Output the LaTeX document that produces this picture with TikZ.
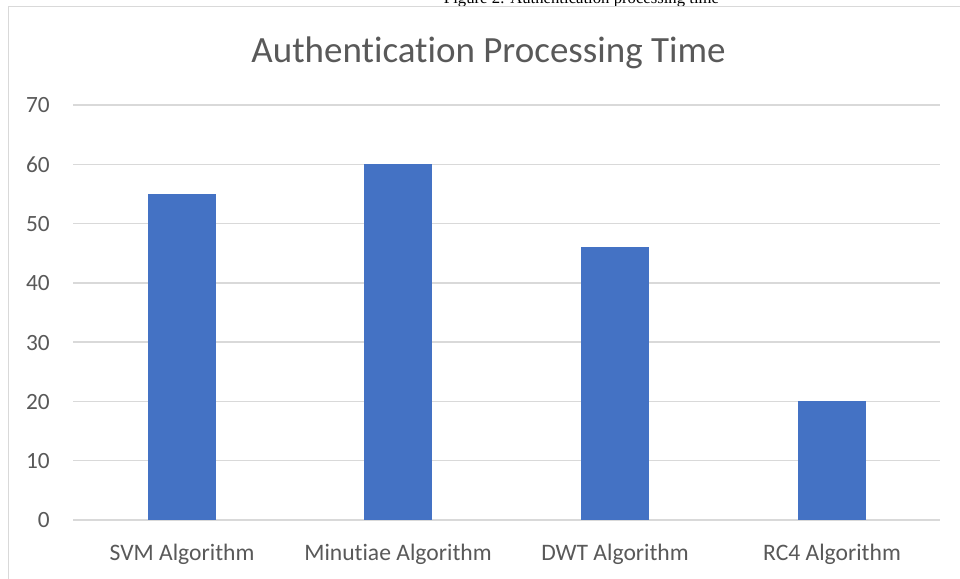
\documentclass[tikz,border=0pt]{standalone}
\usepackage{fontspec}
\setmainfont[Ligatures=NoCommon,RawFeature=-liga]{Carlito}
\newfontfamily\capfont{Liberation Serif}
\definecolor{barblue}{HTML}{4472C4}
\definecolor{gridgray}{HTML}{D9D9D9}
\definecolor{txtgray}{HTML}{595959}
\begin{document}
\begin{tikzpicture}[x=1pt,y=-1pt,
  gridline/.style={draw=gridgray,line width=1.3pt},
  frameline/.style={draw=gridgray,line width=1.6pt},
  bar/.style={fill=barblue,draw=none},
  ylab/.style={anchor=base east,text=txtgray,font=\fontsize{23.3}{26}\selectfont,inner sep=0pt},
  xlab/.style={anchor=base,text=txtgray,font=\fontsize{23.6}{26}\selectfont,inner sep=0pt},
  titlestyle/.style={anchor=base,text=txtgray,font=\fontsize{37}{40}\selectfont,inner sep=0pt}]
\useasboundingbox (0,0) rectangle (960,578);
\clip (0,0) rectangle (960,578);
\fill[white] (0,0) rectangle (960,578);
% caption (cut off at top)
\node[anchor=base,inner sep=0pt,font=\capfont\fontsize{16.7}{18}\selectfont] (caption) at (581.5,3.5) {Figure 2: Authentication processing time};
% frame
\coordinate (fbl) at (8.5,580);
\coordinate (ftl) at (8.5,6.5);
\coordinate (ftr) at (962,6.5);
\draw[frameline] (fbl) -- (ftl) -- (ftr);
% title
\node[titlestyle] (title) at (488.5,62.5) {Authentication Processing Time};
% grid lines and y labels
\foreach \v in {0,10,...,70}{
  \coordinate (gl\v) at (73,{520-\v*5.92857});
  \coordinate (gr\v) at (940,{520-\v*5.92857});
  \draw[gridline] (gl\v) -- (gr\v);
  \node[ylab] (yl\v) at (50,{520-\v*5.92857+7.9}) {\v};
}
% bars
\foreach \i/\x/\h/\name in {1/182/55/SVM Algorithm,2/398/60/Minutiae Algorithm,3/615/46/DWT Algorithm,4/832/20/RC4 Algorithm}{
  \path[bar] (\x-34,520) rectangle (\x+34,{520-\h*5.92857});
  \node[xlab] (xl\i) at (\x,560) {\name};
}
\end{tikzpicture}
\end{document}
